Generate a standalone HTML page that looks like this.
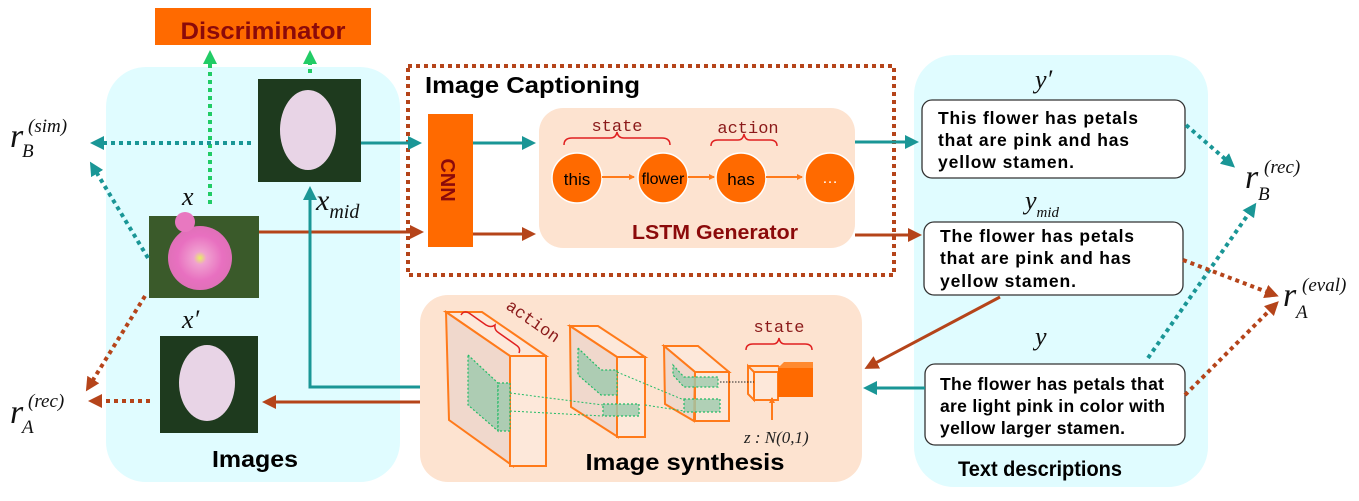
<!DOCTYPE html>
<html><head><meta charset="utf-8"><style>
html,body{margin:0;padding:0;background:#fff;}
svg{display:block;}
.b{font-family:"Liberation Sans",sans-serif;font-weight:bold;}
.m{font-family:"Liberation Serif",serif;font-style:italic;}
.c{font-family:"Liberation Mono",monospace;fill:#8b1a1a;}
</style></head><body>
<svg width="1359" height="501" viewBox="0 0 1359 501" xmlns="http://www.w3.org/2000/svg">
<defs>
<marker id="ao" markerWidth="6" markerHeight="6" refX="5" refY="3" orient="auto" markerUnits="userSpaceOnUse"><path d="M0,0 L6,3 L0,6 Z" fill="#ff7a1a"/></marker>
<marker id="bt" markerWidth="14" markerHeight="14" refX="10" refY="7" orient="auto" markerUnits="userSpaceOnUse"><path d="M0,0 L14,7 L0,14 Z" fill="#1a9696"/></marker>
<marker id="bb" markerWidth="14" markerHeight="14" refX="10" refY="7" orient="auto" markerUnits="userSpaceOnUse"><path d="M0,0 L14,7 L0,14 Z" fill="#b5441a"/></marker>
<marker id="bg" markerWidth="14" markerHeight="14" refX="10" refY="7" orient="auto" markerUnits="userSpaceOnUse"><path d="M0,0 L14,7 L0,14 Z" fill="#22cc66"/></marker>
<radialGradient id="fl" cx="50%" cy="50%" r="50%"><stop offset="0" stop-color="#e8f060"/><stop offset="0.2" stop-color="#f0a0d0"/><stop offset="0.7" stop-color="#e870c0"/><stop offset="1" stop-color="#e070b8"/></radialGradient>
</defs>

<rect x="106" y="67" width="294" height="415" rx="40" fill="#e0fcff"/>
<rect x="914" y="55" width="294" height="432" rx="40" fill="#e0fcff"/>
<rect x="420" y="295" width="442" height="187" rx="28" fill="#fde3d0"/>
<rect x="539" y="108" width="316" height="140" rx="24" fill="#fde3d0"/>

<rect x="155" y="8" width="216" height="37" fill="#ff6a00"/>
<text x="263" y="39" text-anchor="middle" class="b" font-size="24" fill="#8b0a0a" textLength="165" lengthAdjust="spacingAndGlyphs">Discriminator</text>

<rect x="258" y="79" width="103" height="103" fill="#1e3a1e"/>
<ellipse cx="308" cy="130" rx="28" ry="40" fill="#e8d4e6"/>
<rect x="149" y="216" width="110" height="82" fill="#3a5a2a"/>
<circle cx="200" cy="258" r="32" fill="url(#fl)"/>
<circle cx="185" cy="222" r="10" fill="#e878c0"/>
<rect x="160" y="336" width="98" height="97" fill="#1e3a1e"/>
<ellipse cx="207" cy="383" rx="28" ry="38" fill="#e8d4e6"/>

<rect x="408" y="66" width="486" height="209" fill="none" stroke="#b5441a" stroke-width="4" stroke-dasharray="4,4"/>
<text x="425" y="93" class="b" font-size="23" fill="#000" textLength="215" lengthAdjust="spacingAndGlyphs">Image Captioning</text>
<rect x="428" y="114" width="45" height="133" fill="#ff6a00"/>
<text transform="translate(441,180) rotate(90)" text-anchor="middle" class="b" font-size="20" fill="#8b0a0a">CNN</text>

<text x="617" y="131" text-anchor="middle" class="c" font-size="17">state</text>
<path d="M564,145 q0,-7 8,-7 h38 q6,0 7,-6 q1,6 7,6 h38 q8,0 8,7" fill="none" stroke="#e02020" stroke-width="1.5"/>
<text x="748" y="133" text-anchor="middle" class="c" font-size="17">action</text>
<path d="M711,146 q0,-6 7,-6 h20 q5,0 6,-6 q1,6 6,6 h20 q7,0 7,6" fill="none" stroke="#e02020" stroke-width="1.5"/>
<g fill="#ff6a00" stroke="#fff" stroke-width="1.5">
<circle cx="577" cy="178" r="25"/><circle cx="663" cy="178" r="25"/><circle cx="741" cy="178" r="25"/><circle cx="830" cy="178" r="25"/>
</g>
<g stroke="#ff7a1a" stroke-width="2" marker-end="url(#ao)">
<line x1="602" y1="177" x2="634" y2="177"/><line x1="688" y1="177" x2="714" y2="177"/><line x1="766" y1="177" x2="802" y2="177"/>
</g>
<g font-family="Liberation Sans,sans-serif" font-size="17" fill="#000" text-anchor="middle">
<text x="577" y="185">this</text><text x="663" y="184" font-size="16">flower</text><text x="741" y="185">has</text>
</g>
<text x="830" y="183" text-anchor="middle" font-family="Liberation Sans,sans-serif" font-size="16" fill="#fff">…</text>
<text x="715" y="239" text-anchor="middle" class="b" font-size="20" fill="#8b0a0a" textLength="166" lengthAdjust="spacingAndGlyphs">LSTM Generator</text>

<g stroke="#ff7a1a" stroke-width="2">
<path d="M446,312 L510,356 L546,356 L482,312 Z" fill="#fde8da"/>
<path d="M446,312 L449,420 L513,466 L510,356 Z" fill="#f0d8cc"/>
<rect x="510" y="356" width="36" height="110" fill="#fde8da"/>
<path d="M570,326 L617,357 L645,357 L598,326 Z" fill="#fde8da"/>
<path d="M570,326 L571,407 L618,437 L617,357 Z" fill="#f0d8cc"/>
<rect x="617" y="357" width="28" height="80" fill="#fde8da"/>
<path d="M664,346 L695,372 L729,372 L698,346 Z" fill="#fde8da"/>
<path d="M664,346 L665,404 L694,421 L695,372 Z" fill="#f0d8cc"/>
<rect x="695" y="372" width="34" height="49" fill="#fde8da"/>
<rect x="754" y="372" width="24" height="28" fill="#fde8da"/>
<path d="M748,366 L754,372 L754,400 L748,394 Z" fill="#fde8da"/>
<path d="M748,366 L778,366 L784,372 L754,372" fill="none"/>
</g>
<rect x="778" y="368" width="35" height="29" fill="#ff6a00"/>
<path d="M778,368 L784,362 L813,362 L813,368" fill="#ff8a30"/>
<g fill="#9cc9ac" fill-opacity="0.8" stroke="#22bb66" stroke-width="1.2" stroke-dasharray="2,2">
<path d="M468,355 L498,383 L498,431 L468,405 Z"/><rect x="498" y="383" width="12" height="48"/>
<path d="M578,348 L601,370 L617,370 L617,395 L601,395 L578,375 Z"/>
<rect x="603" y="404" width="36" height="12"/>
<path d="M673,365 L684,377 L718,377 L718,387 L684,387 L673,375 Z"/>
<rect x="684" y="399" width="36" height="13"/>
</g>
<g stroke="#22bb66" stroke-width="1" stroke-dasharray="2,2" fill="none">
<line x1="510" y1="393" x2="603" y2="405"/><line x1="510" y1="411" x2="603" y2="416"/>
<line x1="617" y1="372" x2="684" y2="400"/><line x1="645" y1="405" x2="684" y2="411"/>
</g>
<line x1="720" y1="382" x2="754" y2="382" stroke="#222" stroke-width="1" stroke-dasharray="1.5,1.5"/>
<text transform="translate(505,308) rotate(35)" class="c" font-size="17">action</text>
<path d="M461,315 q3,-5 8,-2 l17,12 q5,3 9,0 q-1,5 4,8 l17,12 q5,3 3,8" fill="none" stroke="#e02020" stroke-width="1.5"/>
<text x="779" y="332" text-anchor="middle" class="c" font-size="17">state</text>
<path d="M746,350 q0,-6 7,-6 h20 q5,0 6,-6 q1,6 6,6 h20 q7,0 7,6" fill="none" stroke="#e02020" stroke-width="1.5"/>
<line x1="772" y1="420" x2="772" y2="398" stroke="#ff7a1a" stroke-width="2" marker-end="url(#ao)"/>
<text x="744" y="443" class="m" font-size="17" fill="#222">z :  N(0,1)</text>
<text x="685" y="470" text-anchor="middle" class="b" font-size="23" fill="#000" textLength="199" lengthAdjust="spacingAndGlyphs">Image synthesis</text>

<g fill="#fff" stroke="#333" stroke-width="1.3">
<rect x="922" y="100" width="263" height="78" rx="10"/>
<rect x="924" y="222" width="259" height="73" rx="10"/>
<rect x="925" y="364" width="260" height="81" rx="10"/>
</g>
<g class="b" font-size="17.5" fill="#000" lengthAdjust="spacingAndGlyphs">
<text x="938" y="124" textLength="200">This flower has petals</text><text x="938" y="146" textLength="191">that are pink and has</text><text x="938" y="168" textLength="136">yellow stamen.</text>
<text x="940" y="242" textLength="194">The flower has petals</text><text x="940" y="264" textLength="191">that are pink and has</text><text x="940" y="287" textLength="136">yellow stamen.</text>
<text x="940" y="390" textLength="224">The flower has petals that</text><text x="940" y="412" textLength="225">are light pink in color with</text><text x="940" y="434" textLength="185">yellow larger stamen.</text>
</g>
<text x="1040" y="476" text-anchor="middle" class="b" font-size="21" fill="#000" textLength="164" lengthAdjust="spacingAndGlyphs">Text descriptions</text>
<text x="255" y="467" text-anchor="middle" class="b" font-size="23" fill="#000" textLength="86" lengthAdjust="spacingAndGlyphs">Images</text>

<g class="m" fill="#111">
<text x="1035" y="88" font-size="26">y′</text>
<text x="1025" y="209" font-size="26">y<tspan font-size="15" dy="8">mid</tspan></text>
<text x="1035" y="345" font-size="26">y</text>
<text x="182" y="205" font-size="26">x</text>
<text x="182" y="328" font-size="26">x′</text>
<text x="316" y="210" font-size="30">x<tspan font-size="20" dy="8">mid</tspan></text>
<text x="10" y="147" font-size="34">r</text><text x="22" y="157" font-size="19">B</text><text x="28" y="132" font-size="19">(sim)</text>
<text x="10" y="423" font-size="34">r</text><text x="22" y="433" font-size="19">A</text><text x="28" y="407" font-size="19">(rec)</text>
<text x="1245" y="188" font-size="34">r</text><text x="1258" y="200" font-size="19">B</text><text x="1264" y="173" font-size="19">(rec)</text>
<text x="1283" y="306" font-size="34">r</text><text x="1296" y="318" font-size="19">A</text><text x="1302" y="291" font-size="19">(eval)</text>
</g>

<g fill="none" stroke-width="4">
<line x1="210" y1="204" x2="210" y2="54" stroke="#22cc66" stroke-dasharray="4,4" marker-end="url(#bg)"/>
<line x1="310" y1="73" x2="310" y2="54" stroke="#22cc66" stroke-dasharray="4,4" marker-end="url(#bg)"/>
<line x1="251" y1="143" x2="94" y2="143" stroke="#1a9696" stroke-dasharray="4,4" marker-end="url(#bt)"/>
<line x1="148" y1="258" x2="92" y2="165" stroke="#1a9696" stroke-dasharray="4,4" marker-end="url(#bt)"/>
<line x1="1186" y1="125" x2="1232" y2="165" stroke="#1a9696" stroke-dasharray="4,4" marker-end="url(#bt)"/>
<line x1="1148" y1="358" x2="1254" y2="206" stroke="#1a9696" stroke-dasharray="4,4" marker-end="url(#bt)"/>
<line x1="145" y1="296" x2="88" y2="388" stroke="#b5441a" stroke-dasharray="4,4" marker-end="url(#bb)"/>
<line x1="150" y1="401" x2="92" y2="401" stroke="#b5441a" stroke-dasharray="4,4" marker-end="url(#bb)"/>
<line x1="1183" y1="260" x2="1275" y2="295" stroke="#b5441a" stroke-dasharray="4,4" marker-end="url(#bb)"/>
<line x1="1185" y1="395" x2="1276" y2="304" stroke="#b5441a" stroke-dasharray="4,4" marker-end="url(#bb)"/>
</g>
<g fill="none" stroke-width="3">
<line x1="361" y1="143" x2="418" y2="143" stroke="#1a9696" marker-end="url(#bt)"/>
<line x1="473" y1="143" x2="532" y2="143" stroke="#1a9696" marker-end="url(#bt)"/>
<line x1="855" y1="142" x2="915" y2="142" stroke="#1a9696" marker-end="url(#bt)"/>
<line x1="259" y1="232" x2="420" y2="232" stroke="#b5441a" marker-end="url(#bb)"/>
<line x1="473" y1="234" x2="532" y2="234" stroke="#b5441a" marker-end="url(#bb)"/>
<line x1="855" y1="235" x2="918" y2="235" stroke="#b5441a" marker-end="url(#bb)"/>
<line x1="1000" y1="297" x2="868" y2="367" stroke="#b5441a" marker-end="url(#bb)"/>
<line x1="925" y1="388" x2="867" y2="388" stroke="#1a9696" marker-end="url(#bt)"/>
<polyline points="420,387 310,387 310,190" stroke="#1a9696" marker-end="url(#bt)"/>
<line x1="420" y1="402" x2="266" y2="402" stroke="#b5441a" marker-end="url(#bb)"/>
</g>
</svg>
</body></html>
